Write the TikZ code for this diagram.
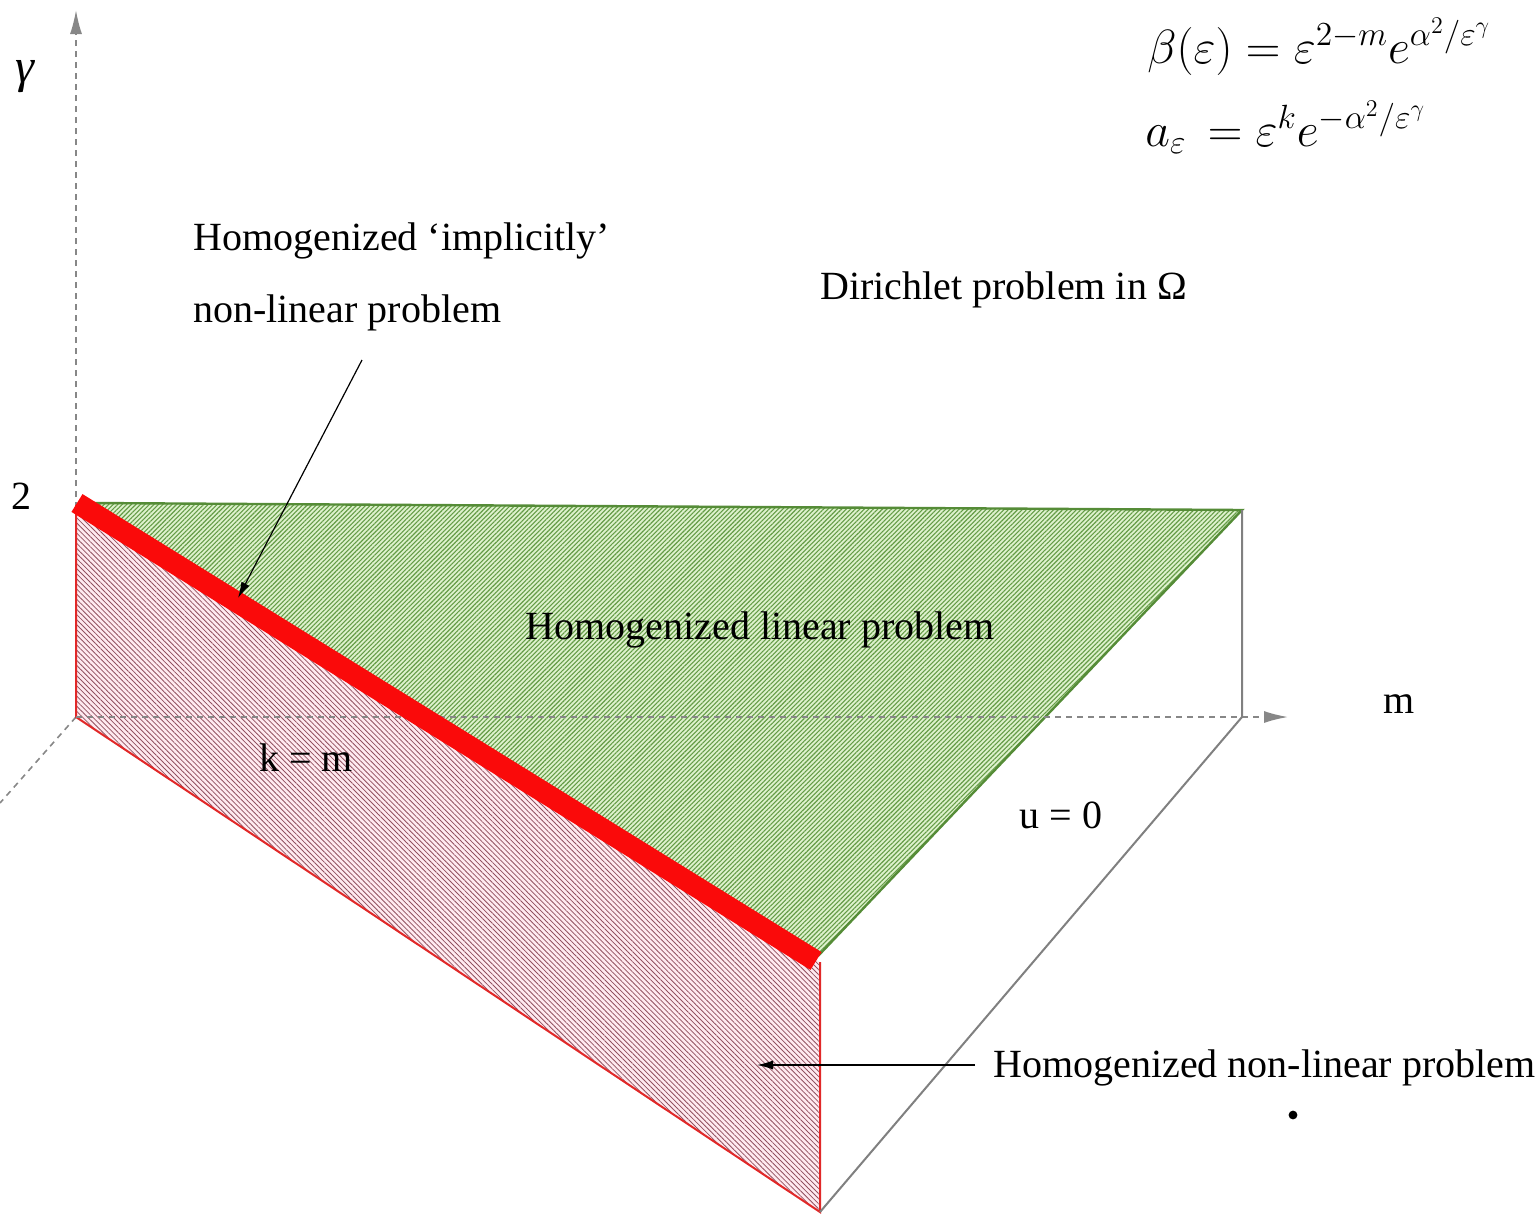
\documentclass[tikz,border=0pt]{standalone}
\usepackage{fix-cm}
\usepackage{fontspec}
\setmainfont{Liberation Serif}
\usetikzlibrary{patterns.meta,arrows.meta}
\definecolor{axisgray}{RGB}{135,135,135}
\definecolor{boxgray}{RGB}{128,128,128}
\definecolor{greenbg}{RGB}{222,242,205}
\definecolor{greenline}{RGB}{100,155,70}
\definecolor{greenborder}{RGB}{85,140,55}
\definecolor{redbg}{RGB}{255,234,240}
\definecolor{redline}{RGB}{145,80,95}
\definecolor{redborder}{RGB}{225,40,40}
\definecolor{bandred}{RGB}{250,10,10}
\begin{document}
\begin{tikzpicture}[x=0.5pt,y=-0.5pt,
  lbl/.style={font=\fontsize{20}{24}\selectfont, inner sep=0pt},
  mathlbl/.style={font=\fontsize{24}{28}\selectfont, inner sep=0pt},
  axis/.style={draw=axisgray, line width=0.8pt, dash pattern=on 3pt off 2.5pt},
  axistip/.style={-{Latex[length=12pt,width=6pt]}},
  boxline/.style={draw=boxgray, line width=1pt},
  pointer/.style={draw=black, line width=0.6pt, -{Latex[length=8pt,width=4.5pt]}}]
\useasboundingbox (0,0) rectangle (1537,1215);
\clip (0,0) rectangle (1537,1215);

% coordinates
\coordinate (O) at (76,717);
\coordinate (gtop) at (76,10);
\coordinate (mend) at (1288,717);
\coordinate (zend) at (0,803);
\coordinate (A) at (76,505);
\coordinate (G1) at (92,503);
\coordinate (G2) at (1242,510);
\coordinate (G3) at (818,956);
\coordinate (B1) at (77,503);
\coordinate (B2) at (816,961);
\coordinate (R3) at (820,1212);
\coordinate (R4) at (820,962);
\coordinate (Q) at (1242,717);

% axes (behind)
\draw[axis, axistip] (O) -- (gtop);
\draw[axis] (O) -- (zend);

% red hatched face
\path[preaction={fill=redbg},
      pattern={Lines[angle=-45,distance=1.8pt,line width=0.4pt]}, pattern color=redline]
  (A) -- (O) -- (R3) -- (R4) -- cycle;
\draw[draw=redborder, line width=1pt] (A) -- (O) -- (R3) -- (R4);

% green hatched face
\path[preaction={fill=greenbg},
      pattern={Lines[angle=45,distance=1.6pt,line width=0.55pt]}, pattern color=greenline]
  (G1) -- (G2) -- (G3) -- cycle;
\draw[draw=greenborder, line width=1.2pt] (G1) -- (G2) -- (G3);

% m axis over the faces
\draw[axis, axistip] (O) -- (mend);

% box lines
\draw[boxline] (G2) -- (Q) -- (R3);

% red band
\draw[bandred, line width=10.5pt] (B1) -- (B2);

% labels
\node[font=\fontsize{24}{28}\selectfont\itshape, inner sep=0pt] (gam) at (25,77) {γ};
\node[lbl] (two) at (21,496) {2};
\node[lbl] (mlab) at (1399,704) {m};
\node[mathlbl, anchor=base west] (beta) at (1147,63)
  {$\beta(\varepsilon) = \varepsilon^{2-m} e^{\alpha^2/\varepsilon^\gamma}$};
\node[mathlbl, anchor=base west] (aeps) at (1145,146)
  {$a_\varepsilon\, = \varepsilon^k e^{-\alpha^2/\varepsilon^\gamma}$};
\node[lbl, anchor=west] (impl1) at (193,241) {Homogenized ‘implicitly’};
\node[lbl, anchor=west] (impl2) at (193,313) {non-linear problem};
\node[lbl, anchor=west] (dir) at (820,290) {Dirichlet problem in Ω};
\node[lbl] (lin) at (760,630) {Homogenized linear problem};
\node[lbl] (km) at (306,758) {k = m};
\node[lbl] (u0) at (1061,815) {u = 0};
\node[lbl, anchor=west] (nonlin) at (993,1068) {Homogenized non-linear problem};
\fill (1293,1115) circle (2.2pt);

% pointers
\coordinate (p1s) at (362,360);
\coordinate (p1e) at (238,598);
\coordinate (p2s) at (975,1065);
\coordinate (p2e) at (757,1065);
\draw[pointer] (p1s) -- (p1e);
\draw[pointer] (p2s) -- (p2e);
\end{tikzpicture}
\end{document}
